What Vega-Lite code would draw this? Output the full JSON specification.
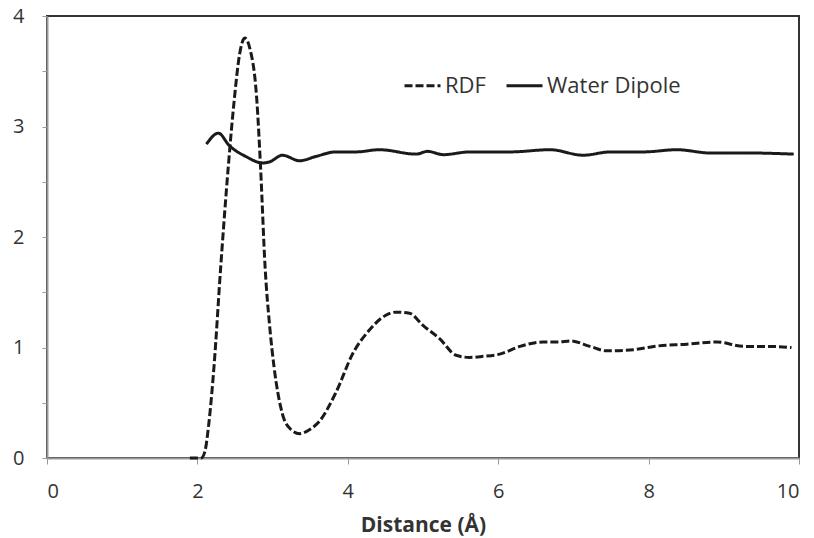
{
  "$schema": "https://vega.github.io/schema/vega-lite/v6.json",
  "autosize": "none",
  "width": 752,
  "height": 442,
  "padding": {"left": 47, "top": 16, "right": 15, "bottom": 80},
  "background": "white",
  "config": {
    "font": "Open Sans",
    "view": {"stroke": "#333333", "strokeWidth": 2},
    "axis": {"grid": false, "domainColor": "#999999", "domainWidth": 2, "tickColor": "#999999", "tickSize": 6, "labelColor": "#333333", "labelFont": "Open Sans", "labelFontSize": 20, "titleFont": "Open Sans"}
  },
  "data": {"values": [
    {"x": 1.9, "y": 0, "s": "RDF"},
    {"x": 2.05, "y": 0, "s": "RDF"},
    {"x": 2.1, "y": 0.06, "s": "RDF"},
    {"x": 2.15, "y": 0.3, "s": "RDF"},
    {"x": 2.22, "y": 0.82, "s": "RDF"},
    {"x": 2.31, "y": 1.73, "s": "RDF"},
    {"x": 2.41, "y": 2.63, "s": "RDF"},
    {"x": 2.49, "y": 3.24, "s": "RDF"},
    {"x": 2.56, "y": 3.65, "s": "RDF"},
    {"x": 2.63, "y": 3.8, "s": "RDF"},
    {"x": 2.7, "y": 3.7, "s": "RDF"},
    {"x": 2.79, "y": 3.24, "s": "RDF"},
    {"x": 2.84, "y": 2.63, "s": "RDF"},
    {"x": 2.9, "y": 1.73, "s": "RDF"},
    {"x": 2.96, "y": 1.2, "s": "RDF"},
    {"x": 3.02, "y": 0.82, "s": "RDF"},
    {"x": 3.13, "y": 0.4, "s": "RDF"},
    {"x": 3.24, "y": 0.26, "s": "RDF"},
    {"x": 3.36, "y": 0.22, "s": "RDF"},
    {"x": 3.5, "y": 0.26, "s": "RDF"},
    {"x": 3.62, "y": 0.33, "s": "RDF"},
    {"x": 3.84, "y": 0.59, "s": "RDF"},
    {"x": 4.07, "y": 0.95, "s": "RDF"},
    {"x": 4.29, "y": 1.16, "s": "RDF"},
    {"x": 4.5, "y": 1.29, "s": "RDF"},
    {"x": 4.64, "y": 1.32, "s": "RDF"},
    {"x": 4.82, "y": 1.31, "s": "RDF"},
    {"x": 5.0, "y": 1.2, "s": "RDF"},
    {"x": 5.22, "y": 1.08, "s": "RDF"},
    {"x": 5.44, "y": 0.93, "s": "RDF"},
    {"x": 5.62, "y": 0.91, "s": "RDF"},
    {"x": 5.8, "y": 0.92, "s": "RDF"},
    {"x": 6.02, "y": 0.94, "s": "RDF"},
    {"x": 6.29, "y": 1.01, "s": "RDF"},
    {"x": 6.6, "y": 1.05, "s": "RDF"},
    {"x": 6.8, "y": 1.05, "s": "RDF"},
    {"x": 6.96, "y": 1.06, "s": "RDF"},
    {"x": 7.22, "y": 1.01, "s": "RDF"},
    {"x": 7.44, "y": 0.97, "s": "RDF"},
    {"x": 7.8, "y": 0.98, "s": "RDF"},
    {"x": 8.07, "y": 1.01, "s": "RDF"},
    {"x": 8.51, "y": 1.03, "s": "RDF"},
    {"x": 8.91, "y": 1.05, "s": "RDF"},
    {"x": 9.27, "y": 1.01, "s": "RDF"},
    {"x": 9.62, "y": 1.01, "s": "RDF"},
    {"x": 9.9, "y": 1.0, "s": "RDF"},
    {"x": 2.12, "y": 2.84, "s": "Water Dipole"},
    {"x": 2.28, "y": 2.94, "s": "Water Dipole"},
    {"x": 2.42, "y": 2.83, "s": "Water Dipole"},
    {"x": 2.64, "y": 2.73, "s": "Water Dipole"},
    {"x": 2.87, "y": 2.67, "s": "Water Dipole"},
    {"x": 2.96, "y": 2.68, "s": "Water Dipole"},
    {"x": 3.13, "y": 2.74, "s": "Water Dipole"},
    {"x": 3.36, "y": 2.69, "s": "Water Dipole"},
    {"x": 3.58, "y": 2.73, "s": "Water Dipole"},
    {"x": 3.84, "y": 2.77, "s": "Water Dipole"},
    {"x": 4.11, "y": 2.77, "s": "Water Dipole"},
    {"x": 4.42, "y": 2.79, "s": "Water Dipole"},
    {"x": 4.91, "y": 2.75, "s": "Water Dipole"},
    {"x": 5.06, "y": 2.775, "s": "Water Dipole"},
    {"x": 5.27, "y": 2.745, "s": "Water Dipole"},
    {"x": 5.62, "y": 2.77, "s": "Water Dipole"},
    {"x": 6.16, "y": 2.77, "s": "Water Dipole"},
    {"x": 6.69, "y": 2.79, "s": "Water Dipole"},
    {"x": 7.13, "y": 2.74, "s": "Water Dipole"},
    {"x": 7.49, "y": 2.77, "s": "Water Dipole"},
    {"x": 7.93, "y": 2.77, "s": "Water Dipole"},
    {"x": 8.38, "y": 2.79, "s": "Water Dipole"},
    {"x": 8.82, "y": 2.76, "s": "Water Dipole"},
    {"x": 9.36, "y": 2.76, "s": "Water Dipole"},
    {"x": 9.93, "y": 2.75, "s": "Water Dipole"}
  ]},
  "mark": {"type": "line", "interpolate": "monotone", "color": "#1a1a1a", "strokeWidth": 3},
  "encoding": {
    "x": {"field": "x", "type": "quantitative", "scale": {"domain": [0, 10], "nice": false},
      "axis": {"values": [0, 2, 4, 6, 8, 10], "title": "Distance (Å)", "titleFontSize": 21, "titleFontWeight": "bold", "titleColor": "#333333", "titlePadding": 13, "labelPadding": 17}},
    "y": {"field": "y", "type": "quantitative", "scale": {"domain": [0, 4], "nice": false},
      "axis": {"values": [0, 0.5, 1, 1.5, 2, 2.5, 3, 3.5, 4], "labelExpr": "datum.value % 1 === 0 ? format(datum.value, 'd') : ''", "title": null, "labelPadding": 18, "tickSize": 5}},
    "strokeDash": {"field": "s", "type": "nominal",
      "scale": {"domain": ["RDF", "Water Dipole"], "range": [[8, 3], [1, 0]]},
      "legend": {"title": null, "orient": "none", "legendX": 356, "legendY": 50, "direction": "horizontal", "symbolType": "stroke", "symbolSize": 1296, "symbolStrokeWidth": 3, "symbolStrokeColor": "#1a1a1a", "labelFontSize": 22, "labelColor": "#333333", "labelFont": "Open Sans", "columnPadding": 14, "labelOffset": 3}}
  }
}
